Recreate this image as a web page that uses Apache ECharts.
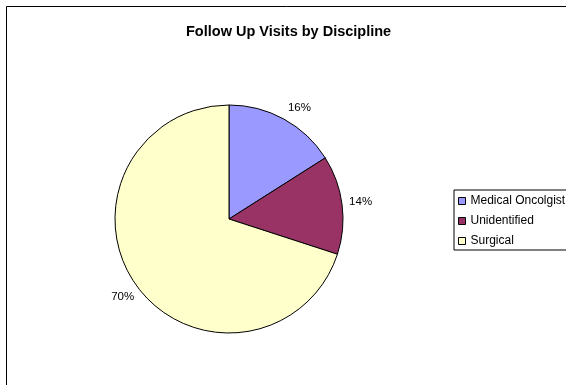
<!DOCTYPE html>
<html>
<head>
<meta charset="utf-8">
<script src="https://cdn.jsdelivr.net/npm/echarts@6/dist/echarts.min.js"></script>
<style>
  html, body { margin: 0; padding: 0; background: #fff; }
  #chart { width: 566px; height: 385px; }
</style>
</head>
<body>
<div id="chart"></div>
<script>
// 数据
const categories = ['Medical Oncolgist', 'Unidentified', 'Surgical']
const shares = [16, 14, 70]
const sliceColors = ['#9999FF', '#993366', '#FFFFCC']

// 标签微调（Excel 风格的标签位置）
const labelNudge = [[-2, -10], [0, -3], [4, 10]]

const chart = echarts.init(document.getElementById('chart'), null, { renderer: 'canvas' })

const option = {
  backgroundColor: '#fff',
  animation: false,
  textStyle: { fontFamily: 'Liberation Sans, Arial, sans-serif' },
  title: {
    text: 'Follow Up Visits by Discipline',
    left: 181,
    top: 19,
    textStyle: { fontSize: 14.5, fontWeight: 'bold', color: '#000', fontFamily: 'Liberation Sans, Arial, sans-serif' }
  },
  // 外框
  graphic: [{
    type: 'rect',
    shape: { x: 6.5, y: 6.5, width: 620, height: 420 },
    style: { fill: 'none', stroke: '#000', lineWidth: 1 },
    silent: true
  }],
  legend: {
    orient: 'vertical',
    left: 454,
    top: 190,
    padding: [4, 12, 2, 4],
    itemGap: 6,
    itemWidth: 7,
    itemHeight: 7,
    icon: 'rect',
    borderColor: '#000',
    borderWidth: 1,
    backgroundColor: '#fff',
    data: categories,
    textStyle: { fontSize: 12, color: '#000', lineHeight: 14, fontFamily: 'Liberation Sans, Arial, sans-serif' },
    itemStyle: { borderColor: '#000', borderWidth: 1 }
  },
  series: [{
    type: 'pie',
    center: [229, 219],
    radius: 114,
    startAngle: 90,
    clockwise: true,
    silent: true,
    itemStyle: { borderColor: '#000', borderWidth: 1 },
    label: {
      show: true,
      position: 'outside',
      formatter: '{c}%',
      fontSize: 11.5,
      color: '#000',
      fontFamily: 'Liberation Sans, Arial, sans-serif'
    },
    labelLine: { show: false, length: 2, length2: 0 },
    data: categories.map((name, i) => ({
      name: name,
      value: shares[i],
      itemStyle: { color: sliceColors[i] },
      label: { offset: labelNudge[i] }
    }))
  }]
}

chart.setOption(option)
</script>
</body>
</html>
